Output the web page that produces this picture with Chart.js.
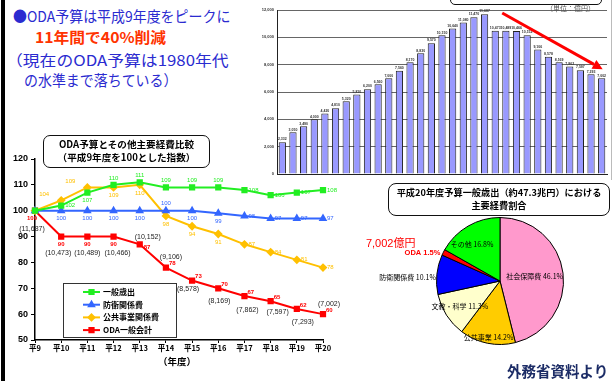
<!DOCTYPE html>
<html><head><meta charset="utf-8">
<script src="https://cdn.jsdelivr.net/npm/chart.js@4.4.1/dist/chart.umd.min.js"></script>
<style>
html,body{margin:0;padding:0;background:#fff;}
#root{position:relative;width:614px;height:381px;overflow:hidden;background:#fff;font-family:"Noto Sans CJK JP",sans-serif;}
.t{position:absolute;white-space:nowrap;line-height:18px;transform-origin:0 50%;}
canvas{position:absolute;}
.box{position:absolute;border:1.5px solid #111;border-radius:7px;background:#fff;text-align:center;font-weight:bold;color:#000;box-sizing:border-box;}
</style></head><body><div id="root">
<div style="position:absolute;left:1px;top:0;width:4px;height:381px;background:#000"></div>
<div style="position:absolute;left:611px;top:0;width:1px;height:180px;background:#bbb"></div>
<div style="position:absolute;left:450px;top:-20px;width:150px;height:23px;border:1.5px solid #111;border-radius:5px;background:#fff"></div>
<canvas id="bar" width="374" height="192" style="left:240px;top:0px;width:374px;height:192px"></canvas>
<canvas id="line" width="350" height="241" style="left:0px;top:140px;width:350px;height:241px"></canvas>
<canvas id="pie" width="254" height="150" style="left:360px;top:211px;width:254px;height:150px"></canvas>

<div class="t" style="left:13px;top:7px;font-size:15px;color:#2b2bd0;transform:scaleX(0.93)">●ODA予算は平成9年度をピークに</div>
<div class="t" style="left:35px;top:28px;font-size:15px;color:#ff3300;font-weight:bold;transform:scaleX(1.05)">11年間で40%削減</div>
<div class="t" style="left:6px;top:51px;font-size:15px;color:#2b2bd0;transform:scaleX(1.12)">（現在のODA予算は1980年代</div>
<div class="t" style="left:24px;top:71px;font-size:15px;color:#2b2bd0;transform:scaleX(0.93)">の水準まで落ちている）</div>
<div class="t" style="left:546px;top:1px;font-size:7px;color:#555;line-height:14px">（単位：億円）</div>

<div class="box" style="left:43px;top:135px;width:167px;height:33px;font-size:9.6px;line-height:13px;padding-top:2px">ODA予算とその他主要経費比較<br>（平成9年度を100とした指数）</div>
<div class="t" style="left:158px;top:352px;font-size:9.5px;font-weight:bold;color:#000">（年度）</div>

<div class="box" style="left:388px;top:183px;width:222px;height:33px;font-size:9.2px;line-height:13px;padding-top:2px;border-radius:8px">平成20年度予算一般歳出（約47.3兆円）における<br>主要経費割合</div>
<div class="t" style="left:507px;top:362px;font-size:14.5px;font-weight:bold;color:#1c2c66">外務省資料より</div>
</div>
<script>
// ---------- DATA ----------
const barYears = ['1978','79','80','81','82','83','84','85','86','87','88','89','90','91','92','93','94','95','96','97','98','99','2000','01','02','03','04','05','06','07','08'];
const odaBudget = [2332,3050,3490,4000,4420,4810,5320,5810,6200,6560,7000,7560,8170,8830,9570,10150,10640,11080,11470,11687,10473,10489,10466,10152,9106,8578,8169,7862,7597,7293,7002];

const fiscalYears = ['平9','平10','平11','平12','平13','平14','平15','平16','平17','平18','平19','平20'];
const generalIdx = [100,102,107,110,111,109,109,109,108,106,107,108];
const defenseIdx = [100,100,100,100,100,100,100,99,98,97,97,97];
const publicWorksIdx = [100,104,109,109,110,98,94,91,87,84,81,78];
const odaIdx = [100,90,90,90,87,78,73,70,67,65,62,60];
const odaAmount = [11687,10473,10489,10466,10152,9106,8578,8169,7862,7597,7293,7002];
const indexTicks = [50,60,70,80,90,100,110,120];

const pieCategories = ['社会保障費','公共事業','文教・科学','防衛関係費','ODA','その他'];
const pieShares = [46.1,14.2,11.3,10.1,1.5,16.8];
const odaYen = '7,002億円';

// ---------- STYLE / LAYOUT CONFIG ----------
const fmt = v => v.toLocaleString('en-US');
const labelPlacement = [
  ['', 'r','b','a','a','a','a','a','r','r','r','r'],
  ['', 'b','b','b','b','a','b','b','r','r','r','r'],
  ['', 'la','la','b','b','b','b','b','r','r','r','r'],
  ['bl','b','b','b','rb','ra','ra','ra','ra','ra','ra','ra']
];
const offs = {a:[0,-7,'center'], b:[0,8,'center'], r:[4,0,'left'], la:[-17,-6,'center'], bl:[-3,8,'center'], ra:[3,-4,'left'], rb:[4,3,'left']};
const amountOffsets = [[-3,18],[-3,16],[0,16],[4,16],[8,-7],[5,-11],[-4,9],[1,13],[3,14],[7,11],[6,13],[6,-10]];

// ---------- BAR CHART ----------
const barExtras = {
  id:'barExtras',
  afterDatasetsDraw(chart){
    const ctx = chart.ctx, meta = chart.getDatasetMeta(0);
    ctx.save();
    ctx.font = 'bold 3.5px "Liberation Sans"';
    ctx.fillStyle = '#333'; ctx.textAlign = 'center'; ctx.textBaseline = 'bottom';
    meta.data.forEach((el,i)=>ctx.fillText(fmt(odaBudget[i]), el.x, el.y-1));
    const a = meta.data[20], b = meta.data[30];
    const x1 = a.x+7, y1 = chart.chartArea.top+3, x2 = b.x+1, y2 = b.y-9;
    const ang = Math.atan2(y2-y1, x2-x1), hl = 10, hw = 5;
    const bx = x2 - hl*Math.cos(ang), by = y2 - hl*Math.sin(ang);
    ctx.strokeStyle = '#ff0000'; ctx.fillStyle = '#ff0000'; ctx.lineWidth = 3;
    ctx.beginPath(); ctx.moveTo(x1,y1); ctx.lineTo(bx,by); ctx.stroke();
    ctx.beginPath(); ctx.moveTo(x2,y2);
    ctx.lineTo(bx + hw*Math.sin(ang), by - hw*Math.cos(ang));
    ctx.lineTo(bx - hw*Math.sin(ang), by + hw*Math.cos(ang));
    ctx.closePath(); ctx.fill();
    ctx.restore();
  }
};
new Chart(document.getElementById('bar'), {
  type:'bar',
  data:{labels:barYears, datasets:[{data:odaBudget, backgroundColor:'#9999ff', borderColor:'#222', borderWidth:1, categoryPercentage:1, barPercentage:0.68}]},
  options:{
    responsive:false, devicePixelRatio:1, animation:false,
    layout:{padding:{left:0,right:7,top:10,bottom:8}},
    plugins:{legend:{display:false}, tooltip:{enabled:false}},
    scales:{
      y:{min:0,max:12000, afterFit:s=>{s.width=37;},
         ticks:{stepSize:2000, font:{size:4, weight:'bold', family:'Liberation Sans'}, color:'#333', padding:3, callback:v=>fmt(v)},
         grid:{color:'#666', lineWidth:1, drawTicks:false}, border:{color:'#222', width:1}},
      x:{afterFit:s=>{s.height=10;},
         ticks:{autoSkip:false, maxRotation:0, minRotation:0, font:{size:4, weight:'bold', family:'Liberation Sans'}, color:'#333', padding:2},
         grid:{display:false}, border:{color:'#222', width:1}}
    }
  },
  plugins:[barExtras]
});

// ---------- LINE CHART ----------
const lineExtras = {
  id:'lineExtras',
  afterDatasetsDraw(chart){
    const ctx = chart.ctx;
    ctx.save();
    ctx.textBaseline = 'middle';
    chart.data.datasets.forEach((ds,di)=>{
      const meta = chart.getDatasetMeta(di);
      meta.data.forEach((pt,i)=>{
        const c = labelPlacement[di][i]; if(!c) return;
        const [dx,dy,al] = offs[c];
        ctx.font = (di===3?'bold ':'') + '6px "Liberation Sans"';
        ctx.fillStyle = ds.borderColor; ctx.textAlign = al;
        ctx.fillText(String(ds.data[i]), pt.x+dx, pt.y+dy);
      });
    });
    const rm = chart.getDatasetMeta(3);
    ctx.font = '7px "Liberation Sans"'; ctx.fillStyle = '#222'; ctx.textAlign = 'center';
    rm.data.forEach((pt,i)=>{
      const [dx,dy] = amountOffsets[i];
      ctx.fillText('(' + fmt(odaAmount[i]) + ')', pt.x+dx, pt.y+dy);
    });
    // legend box
    const lx = 63, ly = 143, lw = 113, lh = 54;
    ctx.fillStyle = '#fff'; ctx.fillRect(lx,ly,lw,lh);
    ctx.strokeStyle = '#333'; ctx.lineWidth = 1; ctx.strokeRect(lx+0.5,ly+0.5,lw,lh);
    chart.data.datasets.forEach((ds,k)=>{
      const y = ly + 9 + k*12.7;
      ctx.strokeStyle = ds.borderColor; ctx.lineWidth = 2;
      ctx.beginPath(); ctx.moveTo(83,y); ctx.lineTo(100,y); ctx.stroke();
      ctx.fillStyle = ds.borderColor;
      Chart.helpers.drawPoint(ctx, {pointStyle:ds.pointStyle, radius:3, rotation:0, borderWidth:1}, 91.5, y);
      ctx.fillStyle = '#000'; ctx.textAlign = 'left';
      ctx.font = 'bold 8px "Noto Sans CJK JP"';
      ctx.fillText(ds.label, 103, y);
    });
    ctx.restore();
  }
};
const mk = (label, data, color, style) => ({label, data, borderColor:color, backgroundColor:color, pointBackgroundColor:color, pointBorderColor:color, borderWidth:2, pointStyle:style, pointRadius:3, tension:0});
new Chart(document.getElementById('line'), {
  type:'line',
  data:{labels:fiscalYears, datasets:[
    mk('一般歳出', generalIdx, '#22ee22', 'rect'),
    mk('防衛関係費', defenseIdx, '#3366ff', 'triangle'),
    mk('公共事業関係費', publicWorksIdx, '#ffc000', 'rectRot'),
    mk('ODA一般会計', odaIdx, '#ff0000', 'rect')
  ]},
  options:{
    responsive:false, devicePixelRatio:1, animation:false,
    layout:{padding:{left:0,right:27,top:19,bottom:23}},
    plugins:{legend:{display:false}, tooltip:{enabled:false}},
    scales:{
      y:{min:50,max:120, afterFit:s=>{s.width=35;},
         afterBuildTicks:s=>{s.ticks = indexTicks.map(v=>({value:v}));},
         ticks:{font:{size:9, weight:'bold', family:'Liberation Sans'}, color:'#000', padding:3},
         grid:{drawOnChartArea:false, tickLength:4, color:'#000'}, border:{color:'#000', width:1.5}},
      x:{offset:false, afterFit:s=>{s.height=18;},
         ticks:{autoSkip:false, maxRotation:0, font:{size:7.5, weight:'bold', family:'Noto Sans CJK JP'}, color:'#000', padding:1},
         grid:{drawOnChartArea:false, tickLength:3, color:'#000'}, border:{color:'#000', width:1.5}}
    }
  },
  plugins:[lineExtras]
});

// ---------- PIE CHART ----------
const pieLabelCfg = [
  {f:0.55, align:'center', dx:0, dy:0},
  {f:0.9, align:'center', dx:0, dy:0},
  {f:0.75, align:'center', dx:0, dy:0},
  {f:1.0, align:'right', dx:-1, dy:3},
  {f:0.98, align:'right', dx:-4, dy:0},
  {f:0.75, align:'center', dx:-4, dy:4}
];
const pieExtras = {
  id:'pieExtras',
  afterDatasetsDraw(chart){
    const ctx = chart.ctx, meta = chart.getDatasetMeta(0);
    ctx.save(); ctx.textBaseline = 'middle';
    meta.data.forEach((arc,i)=>{
      const p = arc.getProps(['x','y','startAngle','endAngle','outerRadius'], true);
      const mid = (p.startAngle + p.endAngle)/2, c = pieLabelCfg[i];
      const x = p.x + Math.cos(mid)*p.outerRadius*c.f + c.dx;
      const y = p.y + Math.sin(mid)*p.outerRadius*c.f + c.dy;
      ctx.textAlign = c.align;
      if (pieCategories[i] === 'ODA') {
        ctx.fillStyle = '#ff0000';
        ctx.font = 'bold 7.5px "Liberation Sans"';
        ctx.fillText(pieCategories[i] + ' ' + pieShares[i] + '%', x, y);
        ctx.font = '11px "Liberation Sans", "Noto Sans CJK JP"';
        ctx.textAlign = 'right';
        ctx.fillText(odaYen, x-25, y-9);
      } else {
        ctx.fillStyle = '#000';
        ctx.font = '7px "Noto Sans CJK JP"';
        ctx.fillText(pieCategories[i] + ' ' + pieShares[i] + '%', x, y);
      }
    });
    ctx.restore();
  }
};
new Chart(document.getElementById('pie'), {
  type:'pie',
  data:{labels:pieCategories, datasets:[{data:pieShares, backgroundColor:['#ff99cc','#ffcc00','#ffffcc','#0000ff','#ff0000','#00ff00'], borderColor:'#000', borderWidth:1}]},
  options:{
    responsive:false, devicePixelRatio:1, animation:false,
    layout:{padding:{left:76,right:50,top:6,bottom:16}},
    plugins:{legend:{display:false}, tooltip:{enabled:false}}
  },
  plugins:[pieExtras]
});
</script>
</body></html>
